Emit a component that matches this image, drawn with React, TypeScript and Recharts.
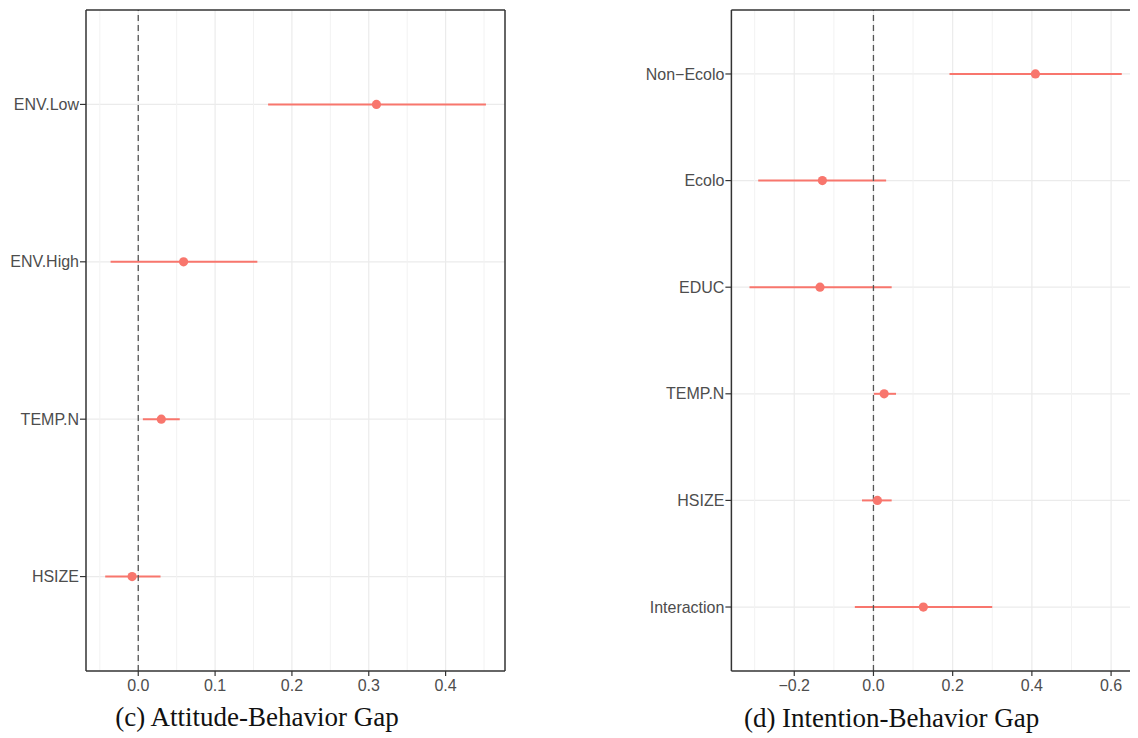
import React from 'react';
import {
  ScatterChart,
  Scatter,
  XAxis,
  YAxis,
  CartesianGrid,
  ReferenceLine,
  ErrorBar,
} from 'recharts';

// ---- (c) Attitude-Behavior Gap ----
const leftLabels = ['ENV.Low', 'ENV.High', 'TEMP.N', 'HSIZE'];
const leftEst = [0.31, 0.059, 0.03, -0.008];
const leftLo = [0.169, -0.036, 0.006, -0.043];
const leftHi = [0.4525, 0.155, 0.054, 0.029];
const leftTicks = [0, 0.1, 0.2, 0.3, 0.4];
const leftMinor = [-0.05, 0.05, 0.15, 0.25, 0.35, 0.45];
const leftDomain: [number, number] = [-0.068, 0.4773];

// ---- (d) Intention-Behavior Gap ----
const rightLabels = ['Non\u2212Ecolo', 'Ecolo', 'EDUC', 'TEMP.N', 'HSIZE', 'Interaction'];
const rightEst = [0.409, -0.129, -0.135, 0.027, 0.01, 0.126];
const rightLo = [0.192, -0.291, -0.313, 0.001, -0.029, -0.047];
const rightHi = [0.627, 0.032, 0.046, 0.057, 0.046, 0.3];
const rightTicks = [-0.2, 0, 0.2, 0.4, 0.6];
const rightMinor = [-0.3, -0.1, 0.1, 0.3, 0.5];
// panel continues past the right edge of the page (cropped in the reference)
const rightDomain: [number, number] = [-0.3587, 0.7];

const captions = ['(c) Attitude-Behavior Gap', '(d) Intention-Behavior Gap'];

const RED = '#F8766D';
const BORDER = '#333333';
const TICK_FONT = { fontFamily: '"Liberation Sans", Arial, sans-serif', fontSize: 16, fill: '#4D4D4D' };

const fmt = (v: number) => v.toFixed(1).replace('-', '\u2212');

function buildRows(labels: string[], est: number[], lo: number[], hi: number[]) {
  return labels.map((label, i) => ({
    label,
    pos: i + 1,
    est: est[i],
    err: [est[i] - lo[i], hi[i] - est[i]],
  }));
}

const Dot = (props: any) => {
  const { cx, cy } = props;
  if (cx == null || cy == null) return null;
  return <circle cx={cx} cy={cy} r={4.6} fill={RED} />;
};

type PanelProps = {
  labels: string[];
  est: number[];
  lo: number[];
  hi: number[];
  ticks: number[];
  minor: number[];
  domain: [number, number];
  width: number;
  yAxisWidth: number;
  marginRight: number;
  rightBorder: boolean;
};

function Panel(p: PanelProps) {
  const rows = buildRows(p.labels, p.est, p.lo, p.hi);
  const n = p.labels.length;
  const yDomain: [number, number] = [0.4, n + 0.6];
  const yTicks = p.labels.map((_, i) => i + 1);
  return (
    <ScatterChart
      width={p.width}
      height={738}
      margin={{ top: 10, right: p.marginRight, bottom: 37, left: 0 }}
    >
      <CartesianGrid stroke="#EBEBEB" strokeWidth={1.2} syncWithTicks />
      {p.minor.map((v) => (
        <ReferenceLine key={'m' + v} x={v} stroke="#F2F2F2" strokeWidth={1} ifOverflow="hidden" />
      ))}
      <XAxis
        type="number"
        dataKey="est"
        domain={p.domain}
        allowDataOverflow
        ticks={p.ticks}
        tickFormatter={fmt}
        height={30}
        axisLine={{ stroke: BORDER, strokeWidth: 1.5 }}
        tickLine={{ stroke: BORDER, strokeWidth: 1.2 }}
        tickSize={5}
        tickMargin={4}
        tick={TICK_FONT}
        interval={0}
      />
      <YAxis
        type="number"
        dataKey="pos"
        domain={yDomain}
        allowDataOverflow
        reversed
        ticks={yTicks}
        tickFormatter={(v: number) => p.labels[v - 1] ?? ''}
        width={p.yAxisWidth}
        axisLine={{ stroke: BORDER, strokeWidth: 1.5 }}
        tickLine={{ stroke: BORDER, strokeWidth: 1.2 }}
        tickSize={6}
        tickMargin={1}
        tick={TICK_FONT}
        interval={0}
      />
      <Scatter data={rows} isAnimationActive={false} shape={Dot}>
        <ErrorBar dataKey="err" direction="x" width={0} stroke={RED} strokeWidth={2} isAnimationActive={false} />
      </Scatter>
      <ReferenceLine x={0} stroke="#555555" strokeWidth={1.3} strokeDasharray="6 4" />
      <ReferenceLine y={yDomain[0]} stroke={BORDER} strokeWidth={1.5} />
      {p.rightBorder && <ReferenceLine x={p.domain[1]} stroke={BORDER} strokeWidth={1.5} />}
    </ScatterChart>
  );
}

export default function App() {
  return (
    <div
      style={{
        position: 'absolute',
        left: 0,
        top: 0,
        width: 1138,
        height: 738,
        overflow: 'hidden',
        background: '#ffffff',
      }}
    >
      <div style={{ position: 'absolute', left: 0, top: 0 }}>
        <Panel
          labels={leftLabels}
          est={leftEst}
          lo={leftLo}
          hi={leftHi}
          ticks={leftTicks}
          minor={leftMinor}
          domain={leftDomain}
          width={520}
          yAxisWidth={86}
          marginRight={15}
          rightBorder
        />
      </div>
      <div style={{ position: 'absolute', left: 600, top: 0, width: 530, height: 738, overflow: 'hidden' }}>
        <Panel
          labels={rightLabels}
          est={rightEst}
          lo={rightLo}
          hi={rightHi}
          ticks={rightTicks}
          minor={rightMinor}
          domain={rightDomain}
          width={570.7}
          yAxisWidth={131.4}
          marginRight={20}
          rightBorder={false}
        />
      </div>
      <svg
        width={1138}
        height={738}
        style={{ position: 'absolute', left: 0, top: 0, pointerEvents: 'none' }}
      >
        <text
          x={257}
          y={726}
          textAnchor="middle"
          fontFamily='"Liberation Serif", "Times New Roman", serif'
          fontSize={27}
          fill="#111111"
        >
          {captions[0]}
        </text>
        <text
          x={891.6}
          y={727}
          textAnchor="middle"
          fontFamily='"Liberation Serif", "Times New Roman", serif'
          fontSize={27}
          fill="#111111"
        >
          {captions[1]}
        </text>
      </svg>
    </div>
  );
}
